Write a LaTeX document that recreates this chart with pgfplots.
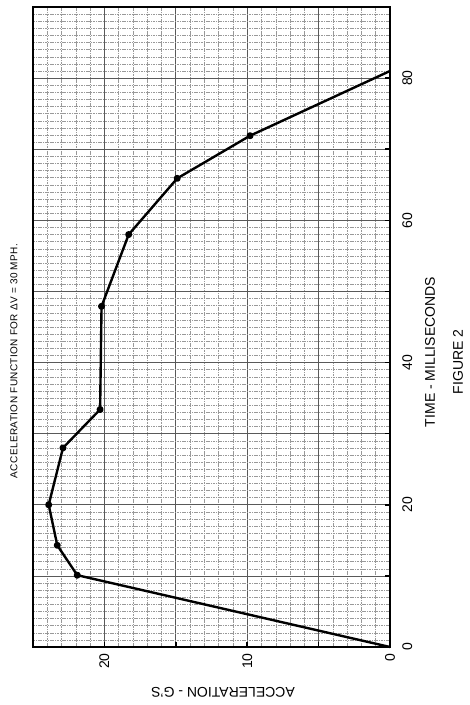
\documentclass[border=0pt]{standalone}
\usepackage{pgfplots}
\pgfplotsset{compat=1.18}
\usepackage{fontspec}
\setmainfont{Liberation Sans}
\newfontfamily\titlefont[LetterSpace=4]{Liberation Sans}

\begin{document}
\begin{tikzpicture}
% page rotated: acceleration runs right-to-left, time runs upward
\begin{axis}[
    at={(0pt,0pt)}, anchor=south west,
    scale only axis,
    width=267.75pt, height=480pt,
    x dir=reverse,
    xmin=0, xmax=25, ymin=0, ymax=90,
    xtick={0,5,...,25}, xticklabels={0,,10,,20,},
    ytick={0,10,...,90}, yticklabels={0,,20,,40,,60,,80,},
    minor x tick num=4, minor y tick num=9,
    grid=both,
    major grid style={black!65, line width=0.5pt},
    minor grid style={black!40, line width=0.35pt, dash pattern=on 1.2pt off 0.6pt},
    axis line style={line width=2pt},
    xtick pos=bottom, ytick pos=right, yticklabel pos=right,
    tick align=inside,
    major tick length=4pt, minor tick length=0pt,
    every tick/.style={black, line width=1.2pt},
    /pgf/number format/assume math mode=true,
    tick label style={font=\fontsize{10.5}{12}\selectfont, inner sep=0pt},
    xticklabel style={rotate=90, anchor=east},
    xticklabel shift=4.5pt,
    yticklabel style={rotate=90, anchor=north},
    yticklabel shift=9pt,
    clip=false,
]
\addplot[black, line width=1.8pt, line join=round,
    mark=*, mark size=1.7pt, mark indices={2,3,4,5,6,7,8,9,10}]
  coordinates {(0,0) (21.9,10.1) (23.3,14.3) (23.9,20) (22.9,28)
               (20.3,33.4) (20.2,47.9) (18.3,58) (14.9,65.9) (9.8,71.9) (0,81)};
\end{axis}

\node[rotate=180, font=\fontsize{10.5}{12}\selectfont] at (142.5pt,-33.75pt) {ACCELERATION - G'S};
\node[rotate=90, font=\fontsize{10.5}{12}\selectfont] at (297.75pt,221.25pt) {TIME - MILLISECONDS};
\node[rotate=90, font=\fontsize{10.5}{12}\selectfont] at (318.75pt,213.75pt) {FIGURE 2};
\node[rotate=90, font=\titlefont\fontsize{7.5}{9}\selectfont] at (-14.25pt,214.5pt) {ACCELERATION FUNCTION FOR ΔV = 30 MPH.};

\pgfresetboundingbox
\path (-24.75pt,-43.5pt) rectangle (327.75pt,485.25pt);
\end{tikzpicture}
\end{document}
